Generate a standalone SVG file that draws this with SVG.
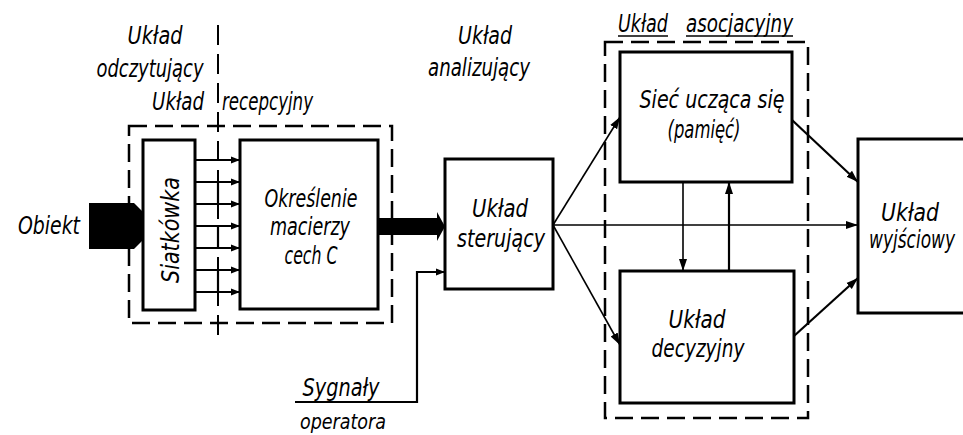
<svg xmlns="http://www.w3.org/2000/svg" width="963" height="435" viewBox="0 0 963 435">
<style>
text{font-family:"DejaVu Sans Condensed","DejaVu Sans","Liberation Sans",sans-serif;font-style:italic;font-size:24px;fill:#000}
.box{fill:#fff;stroke:#000;stroke-width:3}
.dash{fill:none;stroke:#000;stroke-width:2.5;stroke-dasharray:18,8}
.ln{fill:none;stroke:#000;stroke-width:1.6}
.lnb{fill:none;stroke:#000;stroke-width:2.2}
.mid{text-anchor:middle}
</style>
<defs>
<marker id="ah" markerUnits="userSpaceOnUse" markerWidth="14" markerHeight="10" refX="12" refY="5" orient="auto">
<path d="M0,1 L12,5 L0,9 Z" fill="#000"/>
</marker>
<marker id="ahs" markerUnits="userSpaceOnUse" markerWidth="10" markerHeight="8" refX="9" refY="4" orient="auto">
<path d="M0,0.5 L9,4 L0,7.5 Z" fill="#000"/>
</marker>
</defs>

<!-- group outlines and labels -->
<g id="uklad-odczytujacy">
<text x="155" y="44" class="mid" textLength="55" lengthAdjust="spacingAndGlyphs">Układ</text>
<text x="150" y="77" class="mid" textLength="107" lengthAdjust="spacingAndGlyphs">odczytujący</text>
<line x1="218" y1="25" x2="218" y2="340" stroke="#000" stroke-width="2" stroke-dasharray="20,9"/>
</g>
<g id="uklad-recepcyjny">
<text x="152" y="110" textLength="52" lengthAdjust="spacingAndGlyphs">Układ</text>
<text x="222" y="110" textLength="91" lengthAdjust="spacingAndGlyphs">recepcyjny</text>
<rect x="129" y="126" width="263" height="197" class="dash"/>
</g>
<g id="uklad-analizujacy">
<text x="485" y="44" class="mid" textLength="54" lengthAdjust="spacingAndGlyphs">Układ</text>
<text x="479" y="76" class="mid" textLength="102" lengthAdjust="spacingAndGlyphs">analizujący</text>
</g>
<g id="uklad-asocjacyjny">
<text x="618" y="32" textLength="50" lengthAdjust="spacingAndGlyphs">Układ</text>
<text x="686" y="32" textLength="107" lengthAdjust="spacingAndGlyphs">asocjacyjny</text>
<line x1="618" y1="36" x2="668" y2="36" stroke="#000" stroke-width="1.5"/>
<line x1="686" y1="36" x2="793" y2="36" stroke="#000" stroke-width="1.5"/>
<rect x="605" y="42" width="203" height="376" class="dash"/>
</g>

<!-- nodes -->
<g id="obiekt">
<text x="18" y="234" textLength="62" lengthAdjust="spacingAndGlyphs">Obiekt</text>
<path d="M89,203 L134,203 L138,207 L143,212 L143,240 L138,245 L134,249 L89,249 Z" fill="#000"/>
</g>
<g id="siatkowka">
<rect x="143" y="140" width="52" height="170" class="box"/>
<text transform="translate(179,230) rotate(-90)" class="mid" textLength="106" lengthAdjust="spacingAndGlyphs">Siatkówka</text>
</g>
<g id="okreslenie">
<rect x="240" y="140" width="138" height="169" class="box"/>
<text x="311" y="207" class="mid" textLength="93" lengthAdjust="spacingAndGlyphs">Określenie</text>
<text x="310" y="235" class="mid" textLength="80" lengthAdjust="spacingAndGlyphs">macierzy</text>
<text x="311" y="264" class="mid" textLength="53" lengthAdjust="spacingAndGlyphs">cech C</text>
</g>
<g id="sterujacy">
<rect x="445" y="159" width="108" height="130" class="box"/>
<text x="500" y="217" class="mid" textLength="56" lengthAdjust="spacingAndGlyphs">Układ</text>
<text x="501" y="247" class="mid" textLength="88" lengthAdjust="spacingAndGlyphs">sterujący</text>
</g>
<g id="siec">
<rect x="620" y="52" width="172" height="130" class="box"/>
<text x="712" y="108" class="mid" textLength="145" lengthAdjust="spacingAndGlyphs">Sieć ucząca się</text>
<text x="704" y="138" class="mid" textLength="73" lengthAdjust="spacingAndGlyphs">(pamięć)</text>
</g>
<g id="decyzyjny">
<rect x="620" y="271" width="174" height="132" class="box"/>
<text x="697" y="328" class="mid" textLength="57" lengthAdjust="spacingAndGlyphs">Układ</text>
<text x="698" y="357" class="mid" textLength="93" lengthAdjust="spacingAndGlyphs">decyzyjny</text>
</g>
<g id="wyjsciowy">
<rect x="858" y="139" width="110" height="174" class="box"/>
<text x="910" y="221" class="mid" textLength="58" lengthAdjust="spacingAndGlyphs">Układ</text>
<text x="869" y="248" textLength="86" lengthAdjust="spacingAndGlyphs">wyjściowy</text>
</g>
<g id="sygnaly">
<text x="341" y="396" class="mid" textLength="77" lengthAdjust="spacingAndGlyphs">Sygnały</text>
<text x="343" y="429" class="mid" textLength="86" lengthAdjust="spacingAndGlyphs" style="font-size:22px">operatora</text>
</g>

<!-- connectors -->
<g id="connectors">
<g class="lnb" marker-end="url(#ahs)">
<line x1="195" y1="160" x2="240" y2="160"/>
<line x1="195" y1="182" x2="240" y2="182"/>
<line x1="195" y1="204" x2="240" y2="204"/>
<line x1="195" y1="226" x2="240" y2="226"/>
<line x1="195" y1="248" x2="240" y2="248"/>
<line x1="195" y1="270" x2="240" y2="270"/>
<line x1="195" y1="292" x2="240" y2="292"/>
</g>
<g class="lnb">
<line x1="218" y1="182" x2="218" y2="204"/>
<line x1="218" y1="226" x2="218" y2="248"/>
<line x1="218" y1="270" x2="218" y2="292"/>
</g>
<path d="M378,218 L437,218 L437,212 L445,226.5 L437,241 L437,235 L378,235 Z" fill="#000"/>
<polyline points="295,402 417,402 417,272 445,272" class="lnb" marker-end="url(#ahs)"/>
<line x1="553" y1="225" x2="858" y2="225" class="ln" marker-end="url(#ah)"/>
<line x1="553" y1="225" x2="620" y2="117" class="ln" marker-end="url(#ah)"/>
<line x1="553" y1="225" x2="620" y2="345" class="ln" marker-end="url(#ah)"/>
<line x1="683" y1="182" x2="683" y2="271" class="ln" marker-end="url(#ah)"/>
<line x1="729" y1="271" x2="729" y2="182" class="lnb" marker-end="url(#ah)"/>
<line x1="792" y1="120" x2="858" y2="182" class="lnb" marker-end="url(#ah)"/>
<line x1="794" y1="336" x2="858" y2="278" class="lnb" marker-end="url(#ah)"/>
</g>
</svg>
